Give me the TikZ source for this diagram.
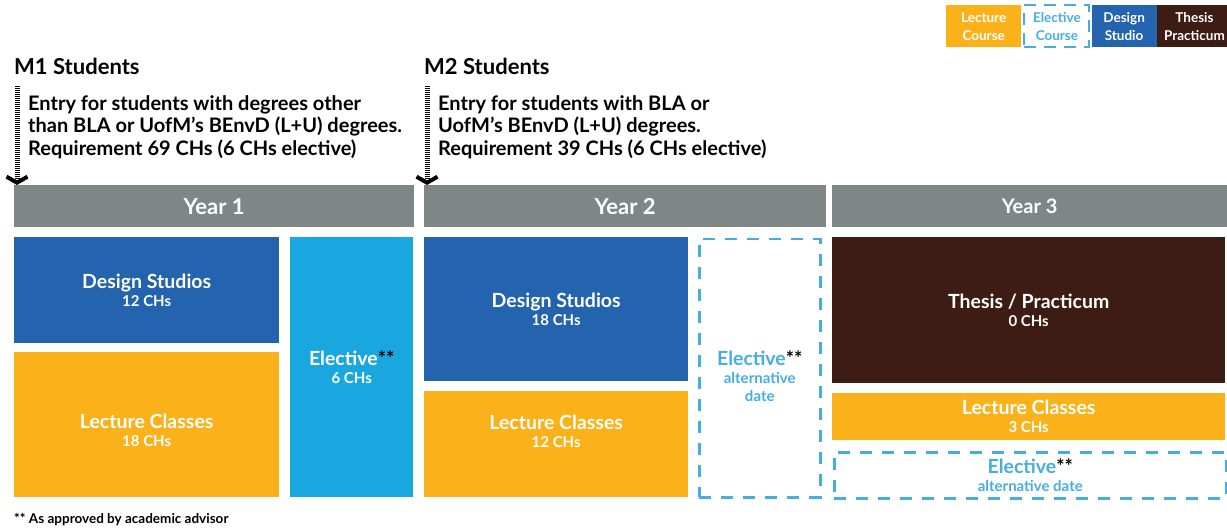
\documentclass[tikz,border=0pt]{standalone}
\usepackage{fontspec}
\setmainfont{Lato}
\usetikzlibrary{positioning, arrows.meta}
\definecolor{studioblue}{HTML}{2463AD}
\definecolor{lectureyellow}{HTML}{FBB21A}
\definecolor{electiveblue}{HTML}{1AA7E0}
\definecolor{dashblue}{HTML}{45AEE1}
\definecolor{thesisbrown}{HTML}{3D1C13}
\definecolor{yeargray}{HTML}{7F8786}

\newcommand{\blocktext}[2]{{\fontsize{19.5}{21}\selectfont #1}\\#2}
\newcommand{\stars}{{\color{black}**}}

\tikzset{
  block/.style={anchor=north west, inner sep=0pt, align=center, text=white, font=\fontsize{15}{18}\selectfont\bfseries},
  blocklabel/.style={inner sep=0pt, align=center, text=white, font=\fontsize{15}{18}\selectfont\bfseries},
  studio/.style={block, fill=studioblue},
  lecture/.style={block, fill=lectureyellow},
  elective/.style={block, fill=electiveblue},
  thesis/.style={block, fill=thesisbrown},
  altelective/.style={block, draw=dashblue, line width=2.5pt, dash pattern=on 12pt off 10pt, text=dashblue},
  yearbar/.style={block, fill=yeargray, minimum height=42, font=\fontsize{22}{24}\selectfont\bfseries},
  legend/.style={minimum width=65, minimum height=42, font=\fontsize{13.5}{18}\selectfont\bfseries},
  heading/.style={anchor=base west, inner sep=0pt, font=\fontsize{22}{24}\selectfont\bfseries},
  entrytext/.style={anchor=north west, inner sep=0pt, align=left, font=\fontsize{20}{22.5}\selectfont\bfseries},
  entry/.style={line width=5pt, dash pattern=on 0.8pt off 1.2pt, -{Straight Barb[length=6pt, width=21pt, line width=4pt]}}
}

\begin{document}
\begin{tikzpicture}[x=1pt, y=-1pt]
\useasboundingbox (0,0) rectangle (1227,529);

% legend
\node[lecture, legend, minimum width=75] (lgLecture) at (946,5) {Lecture\\Course};
\node[altelective, legend, dash pattern=on 12pt off 8pt, line width=2pt, right=2pt of lgLecture] (lgElective) {Elective\\Course};
\node[studio, legend, right=1pt of lgElective] (lgStudio) {Design\\Studio};
\node[thesis, legend, minimum width=75, right=0pt of lgStudio] (lgThesis) {Thesis\\Practicum};

% entry points
\node[heading] (m1) at (14,75) {M1 Students};
\node[entrytext] (m1entry) at (28,95)
  {Entry for students with degrees other\\than BLA or UofM’s BEnvD (L+U) degrees.\\Requirement 69 CHs (6 CHs elective)};
\node[heading] (m2) at (424,75) {M2 Students};
\node[entrytext] (m2entry) at (438,95)
  {Entry for students with BLA or\\UofM’s BEnvD (L+U) degrees.\\Requirement 39 CHs (6 CHs elective)};
\coordinate (m1top) at (17,86);
\coordinate (m2top) at (427,86);

% years
\node[yearbar, minimum width=400] (y1) at (14,185) {Year 1};
\node[yearbar, minimum width=402] (y2) at (424,185) {Year 2};
\node[yearbar, minimum width=395, font=\fontsize{20}{22}\selectfont\bfseries] (y3) at (832,185) {Year 3};

\draw[entry] (m1top) -- ([xshift=3]y1.north west);
\draw[entry] (m2top) -- ([xshift=3]y2.north west);

% year 1
\node[studio, minimum width=265, minimum height=106] (ds1) at (14,237) {\blocktext{Design Studios}{12 CHs}};
\node[lecture, minimum width=265, minimum height=145] (lc1) at (14,352) {};
\node[blocklabel] (lc1text) at ([yshift=-6]lc1.center) {\blocktext{Lecture Classes}{18 CHs}};
\node[elective, minimum width=123, minimum height=260] (el1) at (290,237) {\blocktext{Elective\stars}{6 CHs}};

% year 2
\node[studio, minimum width=264, minimum height=144] (ds2) at (424,237) {\blocktext{Design Studios}{18 CHs}};
\node[lecture, minimum width=264, minimum height=106] (lc2) at (424,391) {};
\node[blocklabel] (lc2text) at ([yshift=13]lc2.center) {\blocktext{Lecture Classes}{12 CHs}};
\node[altelective, minimum width=121, minimum height=258] (el2) at (698,238) {};
\node[blocklabel, text=dashblue] (el2text) at ([yshift=-8]el2.center) {\blocktext{Elective\stars}{alternative\\date}};

% year 3
\node[thesis, minimum width=393, minimum height=146] (th3) at (832,237) {\blocktext{Thesis / Practicum}{0 CHs}};
\node[lecture, minimum width=393, minimum height=47] (lc3) at (832,393) {\blocktext{Lecture Classes}{3 CHs}};
\node[altelective, minimum width=392, minimum height=46] (el3) at (833,451) {\blocktext{Elective\stars}{alternative date}};

\node[anchor=base west, inner sep=0pt, font=\fontsize{13.5}{15}\selectfont\bfseries] (note) at (14,523) {** As approved by academic advisor};
\end{tikzpicture}
\end{document}
